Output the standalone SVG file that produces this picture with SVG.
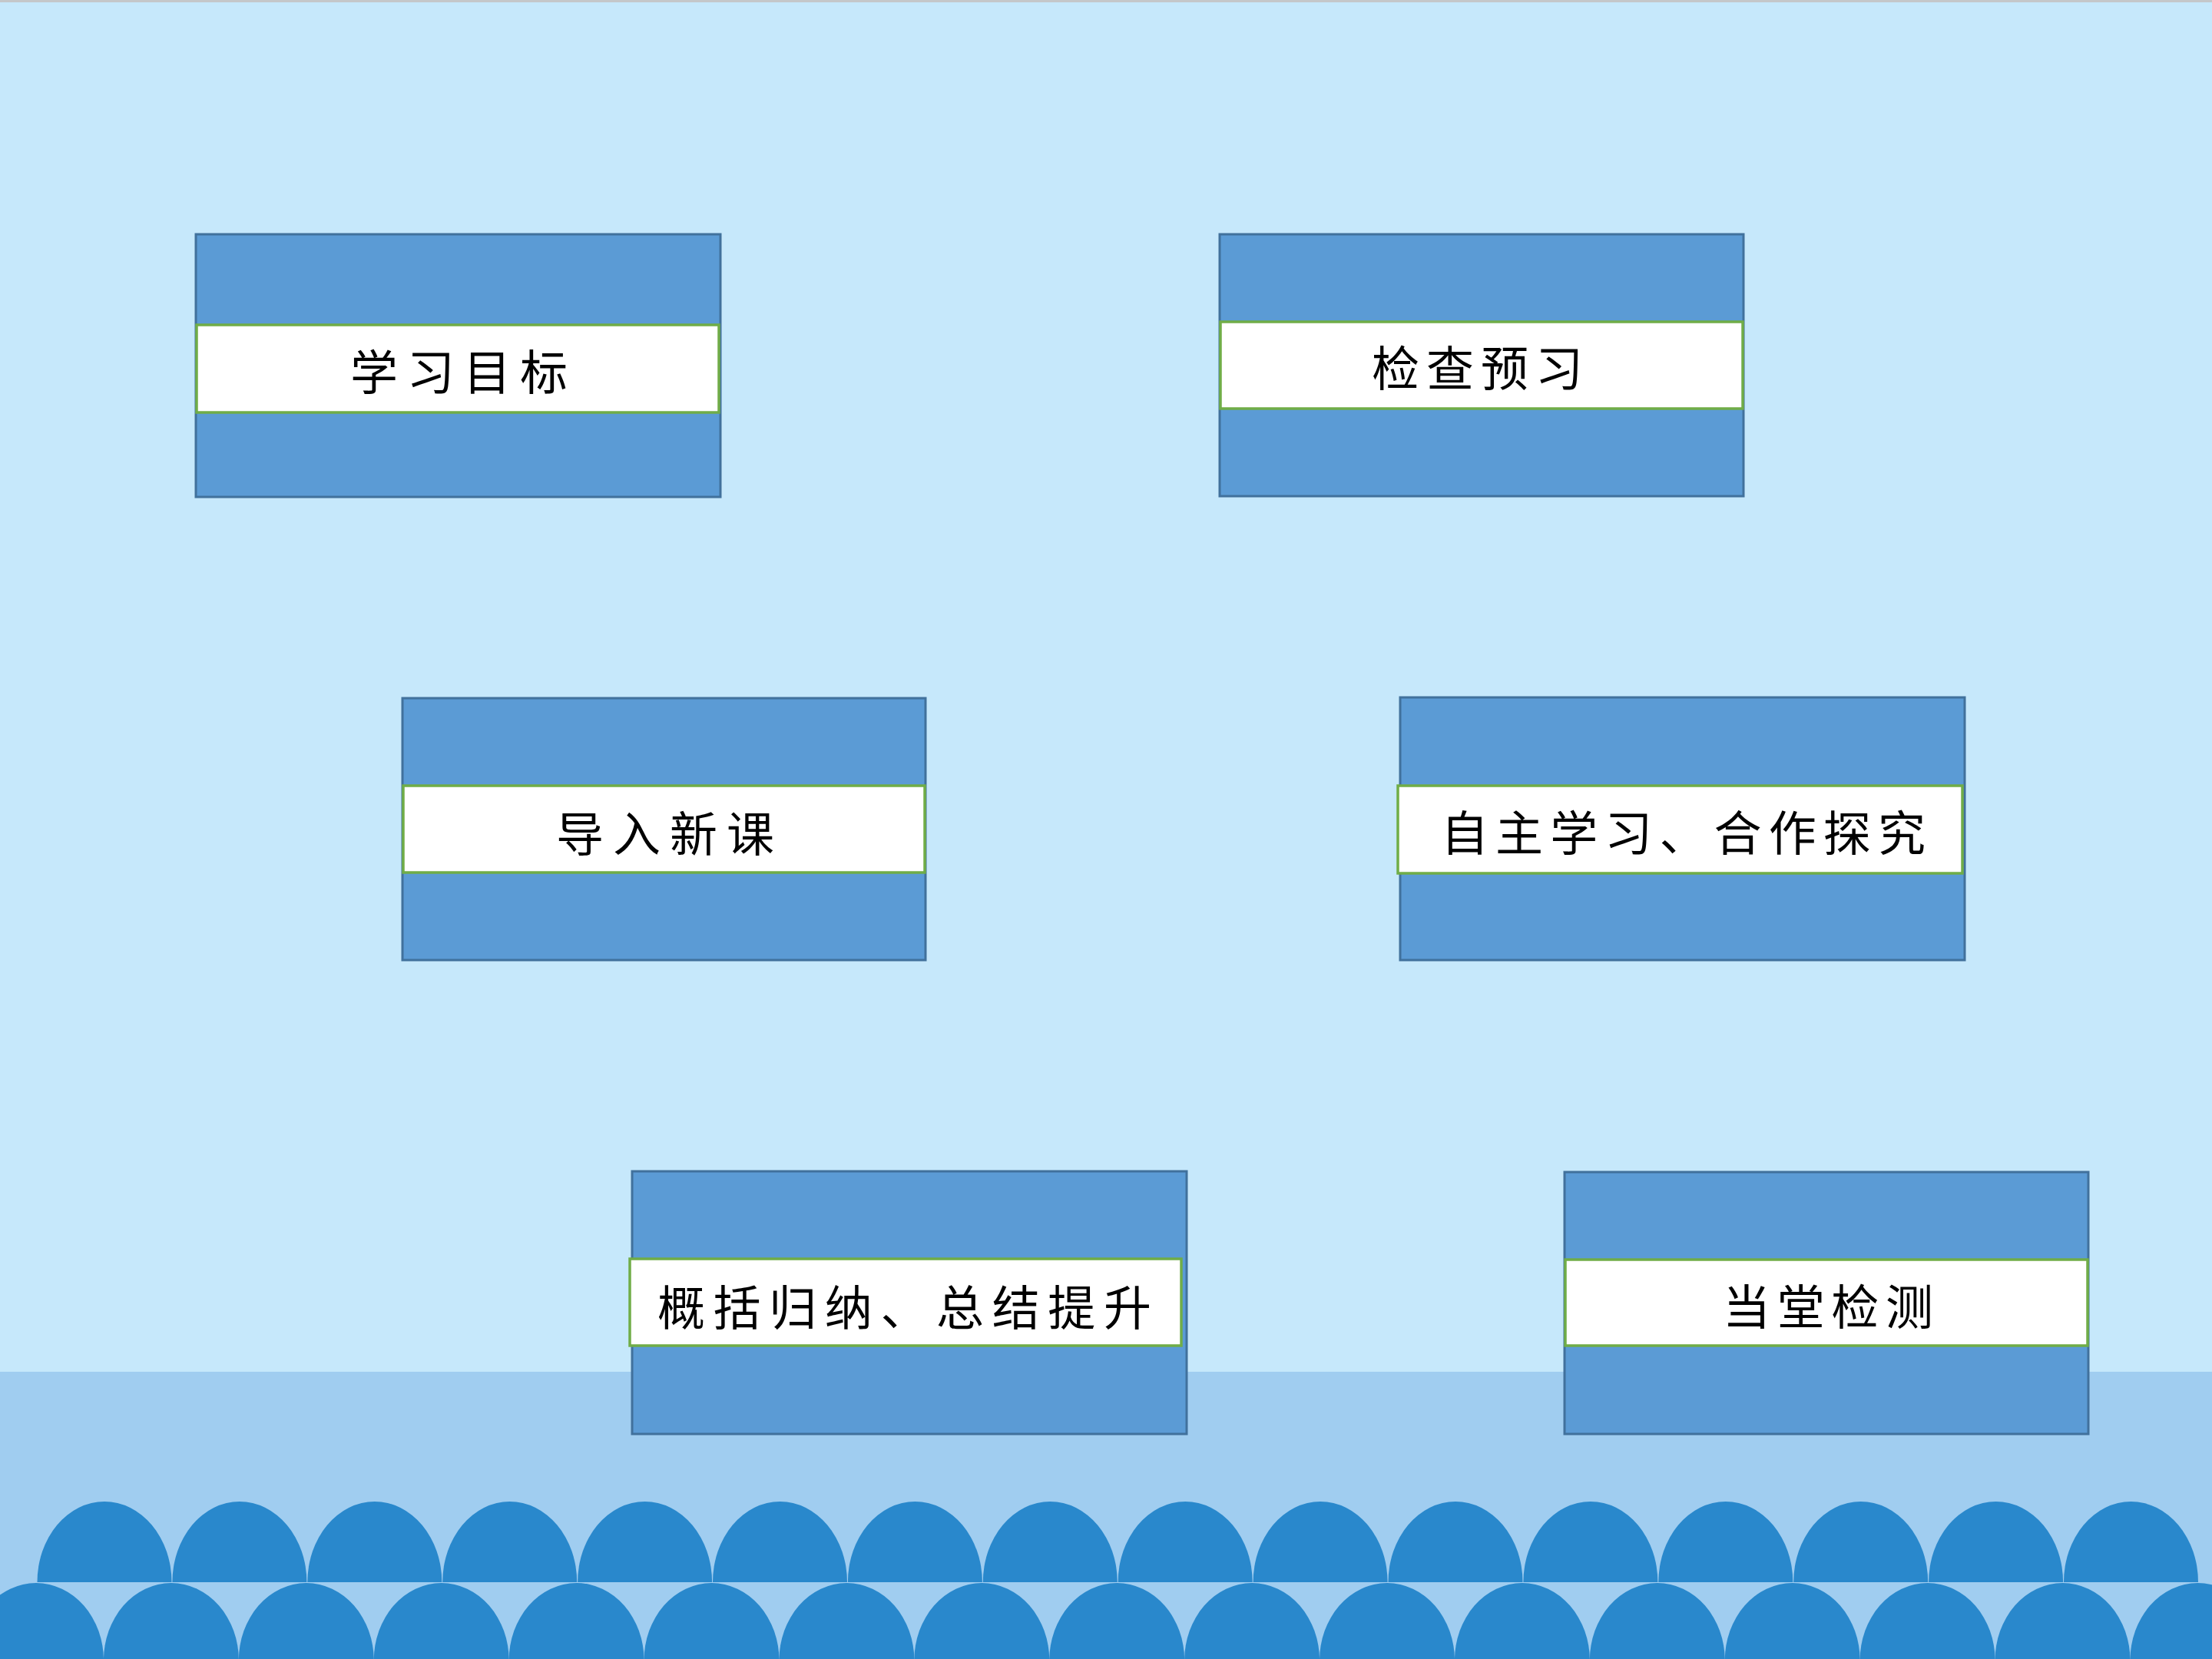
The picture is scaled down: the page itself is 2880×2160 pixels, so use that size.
<svg xmlns="http://www.w3.org/2000/svg" xmlns:xlink="http://www.w3.org/1999/xlink" width="2880" height="2160" viewBox="0 0 2880 2160">
<style>
.box{fill:#5b9bd5;stroke:#41719c;stroke-width:3}
.band{fill:#ffffff;stroke:#70ad47;stroke-width:3.5}
.lbl{font-family:"Noto Sans CJK SC","Noto Sans CJK TC",sans-serif;font-size:62px;fill:#000000}
.arch{fill:#2988cc}
</style>
<defs>
<path id="archT" d="M-87.5,0 A87.5,105 0 0 1 87.5,0 Z"/>
<path id="archB" d="M-88,0 A88,101 0 0 1 88,0 Z"/>
</defs>
<rect x="0" y="0" width="2880" height="2160" fill="#c6e8fb"/>
<rect x="0" y="0" width="2880" height="3" fill="#c4c7c9"/>
<rect x="0" y="1786" width="2880" height="374" fill="#a0cdf0"/>
<g id="waves" class="arch">
<use href="#archT" x="136" y="2060"/>
<use href="#archT" x="311.9" y="2060"/>
<use href="#archT" x="487.8" y="2060"/>
<use href="#archT" x="663.7" y="2060"/>
<use href="#archT" x="839.6" y="2060"/>
<use href="#archT" x="1015.5" y="2060"/>
<use href="#archT" x="1191.4" y="2060"/>
<use href="#archT" x="1367.3" y="2060"/>
<use href="#archT" x="1543.2" y="2060"/>
<use href="#archT" x="1719.1" y="2060"/>
<use href="#archT" x="1895" y="2060"/>
<use href="#archT" x="2070.9" y="2060"/>
<use href="#archT" x="2246.8" y="2060"/>
<use href="#archT" x="2422.7" y="2060"/>
<use href="#archT" x="2598.6" y="2060"/>
<use href="#archT" x="2774.5" y="2060"/>
<use href="#archB" x="47" y="2162"/>
<use href="#archB" x="222.9" y="2162"/>
<use href="#archB" x="398.8" y="2162"/>
<use href="#archB" x="574.7" y="2162"/>
<use href="#archB" x="750.6" y="2162"/>
<use href="#archB" x="926.5" y="2162"/>
<use href="#archB" x="1102.4" y="2162"/>
<use href="#archB" x="1278.3" y="2162"/>
<use href="#archB" x="1454.2" y="2162"/>
<use href="#archB" x="1630.1" y="2162"/>
<use href="#archB" x="1806" y="2162"/>
<use href="#archB" x="1981.9" y="2162"/>
<use href="#archB" x="2157.8" y="2162"/>
<use href="#archB" x="2333.7" y="2162"/>
<use href="#archB" x="2509.6" y="2162"/>
<use href="#archB" x="2685.5" y="2162"/>
<use href="#archB" x="2861.4" y="2162"/>
</g>
<g id="connectors"></g>
<g id="node1">
<rect class="box" x="255" y="305" width="683" height="342"/>
<rect class="band" x="256" y="423" width="680" height="114"/>
<text class="lbl" x="456" y="508" textLength="283" lengthAdjust="spacing">学习目标</text>
</g>
<g id="node2">
<rect class="box" x="1588" y="305" width="682" height="341"/>
<rect class="band" x="1589" y="419" width="680" height="113"/>
<text class="lbl" x="1786" y="503" textLength="275" lengthAdjust="spacing">检查预习</text>
</g>
<g id="node3">
<rect class="box" x="524" y="909" width="681" height="341"/>
<rect class="band" x="525" y="1023" width="679" height="113"/>
<text class="lbl" x="724" y="1109" textLength="284" lengthAdjust="spacing">导入新课</text>
</g>
<g id="node4">
<rect class="box" x="1823" y="908" width="735" height="342"/>
<rect class="band" x="1820" y="1023" width="735" height="114"/>
<text class="lbl" x="1876" y="1108" textLength="631" lengthAdjust="spacing">自主学习、合作探究</text>
</g>
<g id="node5">
<rect class="box" x="823" y="1525" width="722" height="342"/>
<rect class="band" x="820" y="1639" width="718" height="113"/>
<text class="lbl" x="856" y="1726" textLength="643" lengthAdjust="spacing">概括归纳、总结提升</text>
</g>
<g id="node6">
<rect class="box" x="2037" y="1526" width="682" height="341"/>
<rect class="band" x="2038" y="1640" width="680" height="112"/>
<text class="lbl" x="2243" y="1725" textLength="274" lengthAdjust="spacing">当堂检测</text>
</g>
</svg>
